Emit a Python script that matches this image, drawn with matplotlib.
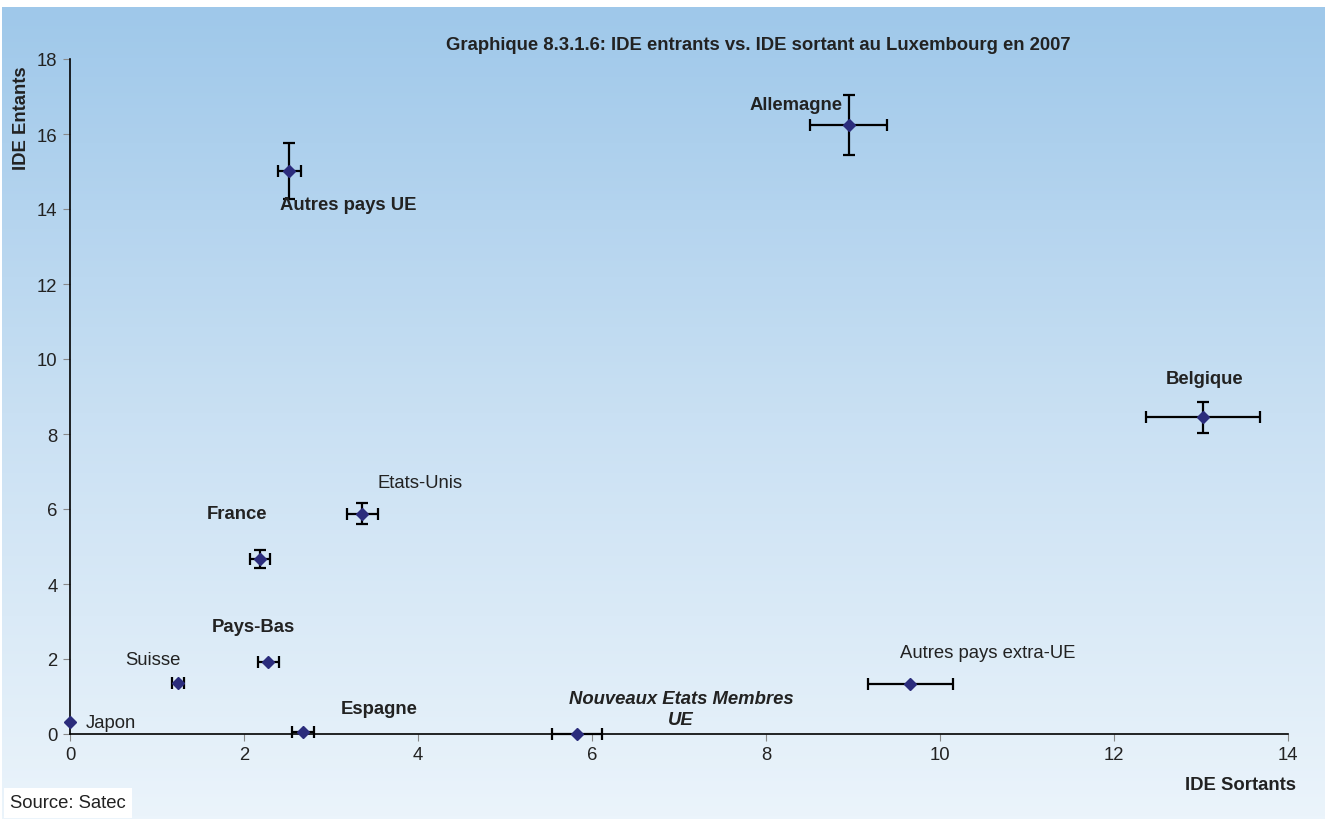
import numpy as np
import matplotlib
matplotlib.use("Agg")
import matplotlib.pyplot as plt
from matplotlib.colors import LinearSegmentedColormap

plt.rcParams['font.family'] = ['Liberation Sans', 'DejaVu Sans']

countries = ["Japon", "Suisse", "Pays-Bas", "Espagne", "France", "Etats-Unis",
             "Autres pays UE", "Allemagne", "Belgique", "Autres pays extra-UE",
             "Nouveaux Etats Membres\nUE"]
ide_sortants = [0.0, 1.24, 2.28, 2.68, 2.18, 3.36, 2.52, 8.95, 13.02, 9.66, 5.83]
ide_entrants = [0.32, 1.36, 1.92, 0.05, 4.67, 5.87, 15.01, 16.24, 8.45, 1.33, 0.0]
err_x = [0.0, 0.07, 0.12, 0.13, 0.115, 0.18, 0.13, 0.44, 0.655, 0.49, 0.29]
err_y = [0.0, 0.0, 0.0, 0.0, 0.23, 0.28, 0.75, 0.81, 0.41, 0.0, 0.0]

x_ticks = [0, 2, 4, 6, 8, 10, 12, 14]
y_ticks = [0, 2, 4, 6, 8, 10, 12, 14, 16, 18]

FS = 13.3

fig = plt.figure(figsize=(13.25, 8.2), dpi=100)
fig.patch.set_facecolor("white")

# gradient background
bg = fig.add_axes([2/1325, 0, 1 - 2/1325, 1 - 8/820])
bg.set_axis_off()
cmap = LinearSegmentedColormap.from_list("g", ["#9FC8EA", "#C9E0F3", "#EBF4FB"])
grad = np.linspace(0, 1, 256).reshape(-1, 1)
bg.imshow(grad, aspect="auto", cmap=cmap, extent=[0, 1, 0, 1], origin="upper")
bg.set_zorder(-10)

ax = fig.add_axes([70/1325, 1 - 735/820, (1288 - 70)/1325, (735 - 60)/820])
ax.patch.set_alpha(0)
ax.set_xlim(0, 14)
ax.set_ylim(0, 18)
ax.set_xticks(x_ticks)
ax.set_yticks(y_ticks)
for s in ["top", "right"]:
    ax.spines[s].set_visible(False)
for s in ["left", "bottom"]:
    ax.spines[s].set_linewidth(1.2)
    ax.spines[s].set_color("black")
ax.tick_params(axis="both", direction="out", length=5, color="#888888",
               labelsize=FS, labelcolor="#222222", pad=4)

for i in range(len(countries)):
    xe = err_x[i] if err_x[i] > 0 else None
    ye = err_y[i] if err_y[i] > 0 else None
    ax.errorbar(ide_sortants[i], ide_entrants[i], xerr=xe, yerr=ye,
                fmt="D", color="#2B2C7C", markersize=6.5, ecolor="black",
                elinewidth=1.6, capsize=4, capthick=1.6, clip_on=False, zorder=3)

# labels
lab = dict(color="#222222", fontsize=FS)
def put(i, px, py, ha, va, **kw):
    ax.annotate(countries[i], (ide_sortants[i], ide_entrants[i]), xytext=(px, py),
                textcoords="offset pixels", ha=ha, va=va, **lab, **kw)

put(0, 16, -1, "left", "center")
put(1, 3, 23, "right", "center")
put(2, 27, 35, "right", "center", fontweight="bold")
put(3, 38, 24, "left", "center", fontweight="bold")
put(4, 8, 45, "right", "center", fontweight="bold")
put(5, 15, 31, "left", "center")
put(6, -9, -33, "left", "center", fontweight="bold")
put(7, -6, 21, "right", "center", fontweight="bold")
put(8, 2, 39, "center", "center", fontweight="bold")
put(9, -10, 32, "left", "center")
put(10, 104, 25, "center", "center", fontweight="bold", fontstyle="italic",
    linespacing=1.25)

fig.text(758/1325, 1 - 45/820, "Graphique 8.3.1.6: IDE entrants vs. IDE sortant au Luxembourg en 2007",
         ha="center", va="center", fontsize=FS, fontweight="bold", color="#222222")
fig.text(22/1325, 1 - 118/820, "IDE Entants", rotation=90, ha="center", va="center",
         fontsize=FS, fontweight="bold", color="#222222")
fig.text(1296/1325, 1 - 786/820, "IDE Sortants", ha="right", va="center",
         fontsize=FS, fontweight="bold", color="#222222")
fig.text(10/1325, 1 - 804/820, "Source: Satec", ha="left", va="center", fontsize=FS,
         color="#222222",
         bbox=dict(boxstyle="square,pad=0.35", facecolor="white", edgecolor="none"))

fig.savefig("out.png", dpi=100)
